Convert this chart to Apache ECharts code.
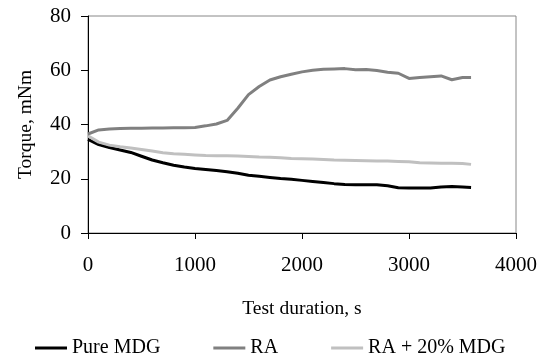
<!DOCTYPE html>
<html>
<head>
<meta charset="utf-8">
<script src="https://cdn.jsdelivr.net/npm/echarts@6/dist/echarts.min.js"></script>
<style>html,body{margin:0;padding:0;background:#fff}#c{width:550px;height:360px}</style>
</head>
<body>
<div id="c"></div>
<script>
var times = [0,100,200,300,400,500,600,700,800,900,1000,1100,1200,1300,1400,1500,1600,1700,1800,1900,2000,2100,2200,2300,2400,2500,2600,2700,2800,2900,3000,3100,3200,3300,3400,3500,3580];
var pureMDG = [34.5,32.6,31.5,30.6,29.7,28.3,26.9,25.9,25.0,24.3,23.8,23.4,23.0,22.6,22.0,21.3,20.9,20.5,20.1,19.8,19.4,19.0,18.6,18.2,17.9,17.8,17.8,17.8,17.4,16.7,16.6,16.6,16.6,17.0,17.1,17.0,16.8];
var ra = [36.5,38.0,38.3,38.5,38.6,38.6,38.7,38.7,38.8,38.8,38.9,39.5,40.2,41.5,46.0,51.0,54.0,56.4,57.6,58.5,59.4,60.0,60.4,60.5,60.6,60.2,60.3,59.9,59.3,58.9,57.0,57.3,57.6,57.9,56.5,57.3,57.3];
var ra20 = [35.8,33.5,32.4,31.8,31.3,30.8,30.2,29.6,29.2,29.0,28.8,28.6,28.5,28.5,28.4,28.2,28.0,27.9,27.7,27.5,27.4,27.3,27.1,26.9,26.8,26.7,26.6,26.5,26.5,26.4,26.3,25.9,25.8,25.7,25.7,25.6,25.3];
var seriesNames = ['Pure MDG','RA','RA + 20% MDG'];
var xTitle = 'Test duration, s';
var yTitle = 'Torque, mNm';

function pairs(v){ return times.map(function(t,i){ return [t, v[i]]; }); }
var font = 'Liberation Serif';
var chart = echarts.init(document.getElementById('c'));
chart.setOption({
  animation: false,
  textStyle: {fontFamily: font, color: '#000'},
  grid: {left: 88, top: 16, right: 34, bottom: 127, show: true, borderColor: '#888', borderWidth: 1},
  legend: {
    left: 35, top: 338, padding: 0, itemWidth: 32, itemHeight: 3, itemGap: 53, icon: 'rect',
    textStyle: {fontFamily: font, fontSize: 20, color: '#000'},
    data: seriesNames
  },
  xAxis: {
    type: 'value', min: 0, max: 4000, interval: 1000,
    name: xTitle, nameLocation: 'middle', nameGap: 66,
    nameTextStyle: {fontFamily: font, fontSize: 19.5, color: '#000'},
    axisLine: {lineStyle: {color: '#000', width: 1}},
    axisTick: {show: true, length: 6, lineStyle: {color: '#000'}},
    axisLabel: {fontFamily: font, fontSize: 21, color: '#000', margin: 22, formatter: function(v){ return String(v); }},
    splitLine: {show: false}
  },
  yAxis: {
    type: 'value', min: 0, max: 80, interval: 20,
    name: yTitle, nameLocation: 'middle', nameGap: 52,
    nameTextStyle: {fontFamily: font, fontSize: 19.5, color: '#000'},
    axisLine: {show: true, lineStyle: {color: '#000', width: 1}},
    axisTick: {show: true, length: 7, lineStyle: {color: '#000'}},
    axisLabel: {fontFamily: font, fontSize: 21, color: '#000', margin: 17},
    splitLine: {show: false}
  },
  series: [
    {name: seriesNames[0], type: 'line', showSymbol: false, data: pairs(pureMDG), color: '#000', lineStyle: {width: 3, color: '#000'}},
    {name: seriesNames[1], type: 'line', showSymbol: false, data: pairs(ra), color: '#808080', lineStyle: {width: 3, color: '#808080'}},
    {name: seriesNames[2], type: 'line', showSymbol: false, data: pairs(ra20), color: '#c0c0c0', lineStyle: {width: 3, color: '#c0c0c0'}}
  ]
});
</script>
</body>
</html>
